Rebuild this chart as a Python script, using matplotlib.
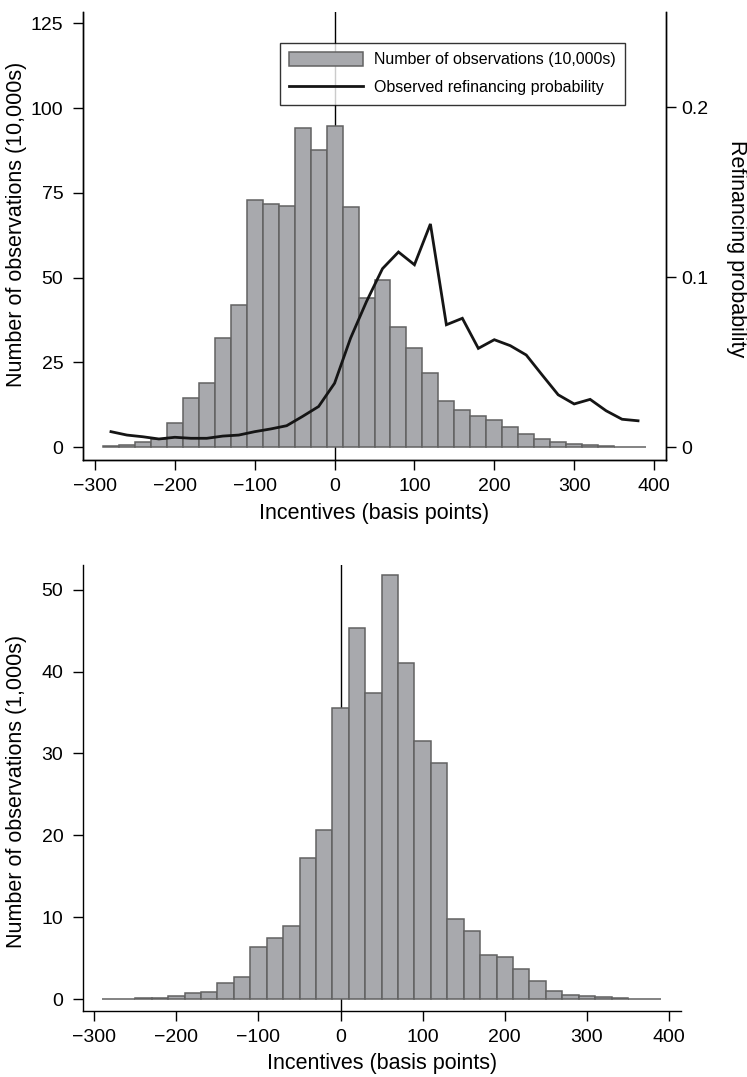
import matplotlib
matplotlib.use("Agg")
import matplotlib.pyplot as plt
from matplotlib.patches import Patch
from matplotlib.lines import Line2D

plt.rcParams['font.family'] = ['Liberation Sans', 'DejaVu Sans']

# ---------------- data ----------------
bin_centers = list(range(-280, 381, 20))  # incentives (basis points)

# Top panel: number of observations (10,000s)
obs_top = [0.3, 0.6, 1.5, 2.5, 7.1, 14.6, 19.0, 32.3, 42.0, 72.9, 71.8, 71.1,
           94.0, 87.7, 94.7, 70.9, 44.1, 49.2, 35.5, 29.2, 21.8, 13.6, 10.9,
           9.2, 8.0, 6.1, 4.0, 2.4, 1.7, 1.1, 0.6, 0.25, 0.15, 0.1]

# Top panel: observed refinancing probability
refi_prob = [0.0092, 0.0072, 0.0062, 0.0049, 0.0059, 0.0053, 0.0053, 0.0066,
             0.0072, 0.0092, 0.0108, 0.0127, 0.0182, 0.0240, 0.0377, 0.0642,
             0.0858, 0.1051, 0.1149, 0.1074, 0.1314, 0.0721, 0.0759, 0.0582,
             0.0633, 0.0598, 0.0543, 0.0425, 0.0309, 0.0255, 0.0282, 0.0215,
             0.0165, 0.0156]

# Bottom panel: number of observations (1,000s)
obs_bottom = [0.08, 0.08, 0.12, 0.15, 0.37, 0.73, 0.93, 1.95, 2.76, 6.35, 7.45,
              9.0, 17.3, 20.7, 35.6, 45.3, 37.4, 51.8, 41.0, 31.5, 28.8, 9.85,
              8.35, 5.45, 5.2, 3.7, 2.28, 1.0, 0.57, 0.37, 0.24, 0.12, 0.06, 0.06]

x_ticks = [-300, -200, -100, 0, 100, 200, 300, 400]
top_left_ticks = [0, 25, 50, 75, 100, 125]
top_right_ticks = [0, 0.1, 0.2]
top_right_labels = ["0", "0.1", "0.2"]
bottom_ticks = [0, 10, 20, 30, 40, 50]

# ---------------- style ----------------
BAR_FACE = '#a8a9ad'
BAR_EDGE = '#626262'
LINE_COL = '#151515'
TICK_FS = 14
LABEL_FS = 15.5
LEG_FS = 11.5

W, H = 747, 1077
fig = plt.figure(figsize=(W / 100, H / 100), dpi=100)


def frac_axes(l, t, r, b):
    return [l / W, 1 - b / H, (r - l) / W, (b - t) / H]


def ftext(x, y, s, **kw):
    fig.text(x / W, 1 - y / H, s, ha='center', va='center',
             fontsize=LABEL_FS, **kw)


def style_axis(ax):
    ax.tick_params(axis='both', direction='out', length=7, width=1,
                   labelsize=TICK_FS, colors='black')
    ax.tick_params(axis='x', pad=6)
    ax.tick_params(axis='y', pad=7)
    for s in ax.spines.values():
        s.set_linewidth(1.0)
        s.set_color('black')


# ---------------- top panel ----------------
ax1 = fig.add_axes(frac_axes(82.7, 12, 666, 460))
ax1.axvline(0, color='black', lw=1.0, zorder=0.5)
ax1.bar(bin_centers, obs_top, width=20, color=BAR_FACE, edgecolor=BAR_EDGE,
        linewidth=1.1, zorder=2)
ax1.set_xlim(-315.4, 415)
ax1.set_ylim(-3.74, 128.3)
ax1.set_xticks(x_ticks)
ax1.set_yticks(top_left_ticks)
ax1.spines['top'].set_visible(False)
style_axis(ax1)

ax2 = ax1.twinx()
ax2.plot(bin_centers, refi_prob, color=LINE_COL, lw=2.0, solid_joinstyle='miter')
ax2.set_ylim(-0.00747, 0.2561)
ax2.set_yticks(top_right_ticks)
ax2.set_yticklabels(top_right_labels)
ax2.spines['top'].set_visible(False)
style_axis(ax2)
ax2.tick_params(axis='y', pad=4)

handles = [Patch(facecolor=BAR_FACE, edgecolor=BAR_EDGE, linewidth=1.1),
           Line2D([], [], color=LINE_COL, lw=2.0)]
labels = ['Number of observations (10,000s)', 'Observed refinancing probability']
leg = ax2.legend(handles, labels, loc='upper right',
                 bbox_to_anchor=(0.930, 0.9315), fontsize=LEG_FS,
                 frameon=True, fancybox=False, handlelength=4.6,
                 handleheight=0.9, handletextpad=0.7, labelspacing=0.8,
                 borderpad=0.6, borderaxespad=0)
leg.get_frame().set_edgecolor('black')
leg.get_frame().set_linewidth(1.0)
leg.set_zorder(10)

ftext(374, 513, 'Incentives (basis points)')
ftext(17, 224, 'Number of observations (10,000s)', rotation=90)
ftext(736, 249, 'Refinancing probability', rotation=270)

# ---------------- bottom panel ----------------
ax3 = fig.add_axes(frac_axes(82.7, 565, 681, 1011))
ax3.axvline(0, color='black', lw=1.0, zorder=0.5)
ax3.bar(bin_centers, obs_bottom, width=20, color=BAR_FACE, edgecolor=BAR_EDGE,
        linewidth=1.1, zorder=2)
ax3.set_xlim(-314.1, 414.6)
ax3.set_ylim(-1.43, 53.0)
ax3.set_xticks(x_ticks)
ax3.set_yticks(bottom_ticks)
ax3.spines['top'].set_visible(False)
ax3.spines['right'].set_visible(False)
style_axis(ax3)

ftext(382, 1064, 'Incentives (basis points)')
ftext(17, 791, 'Number of observations (1,000s)', rotation=90)

fig.savefig('out.png', dpi=100)
